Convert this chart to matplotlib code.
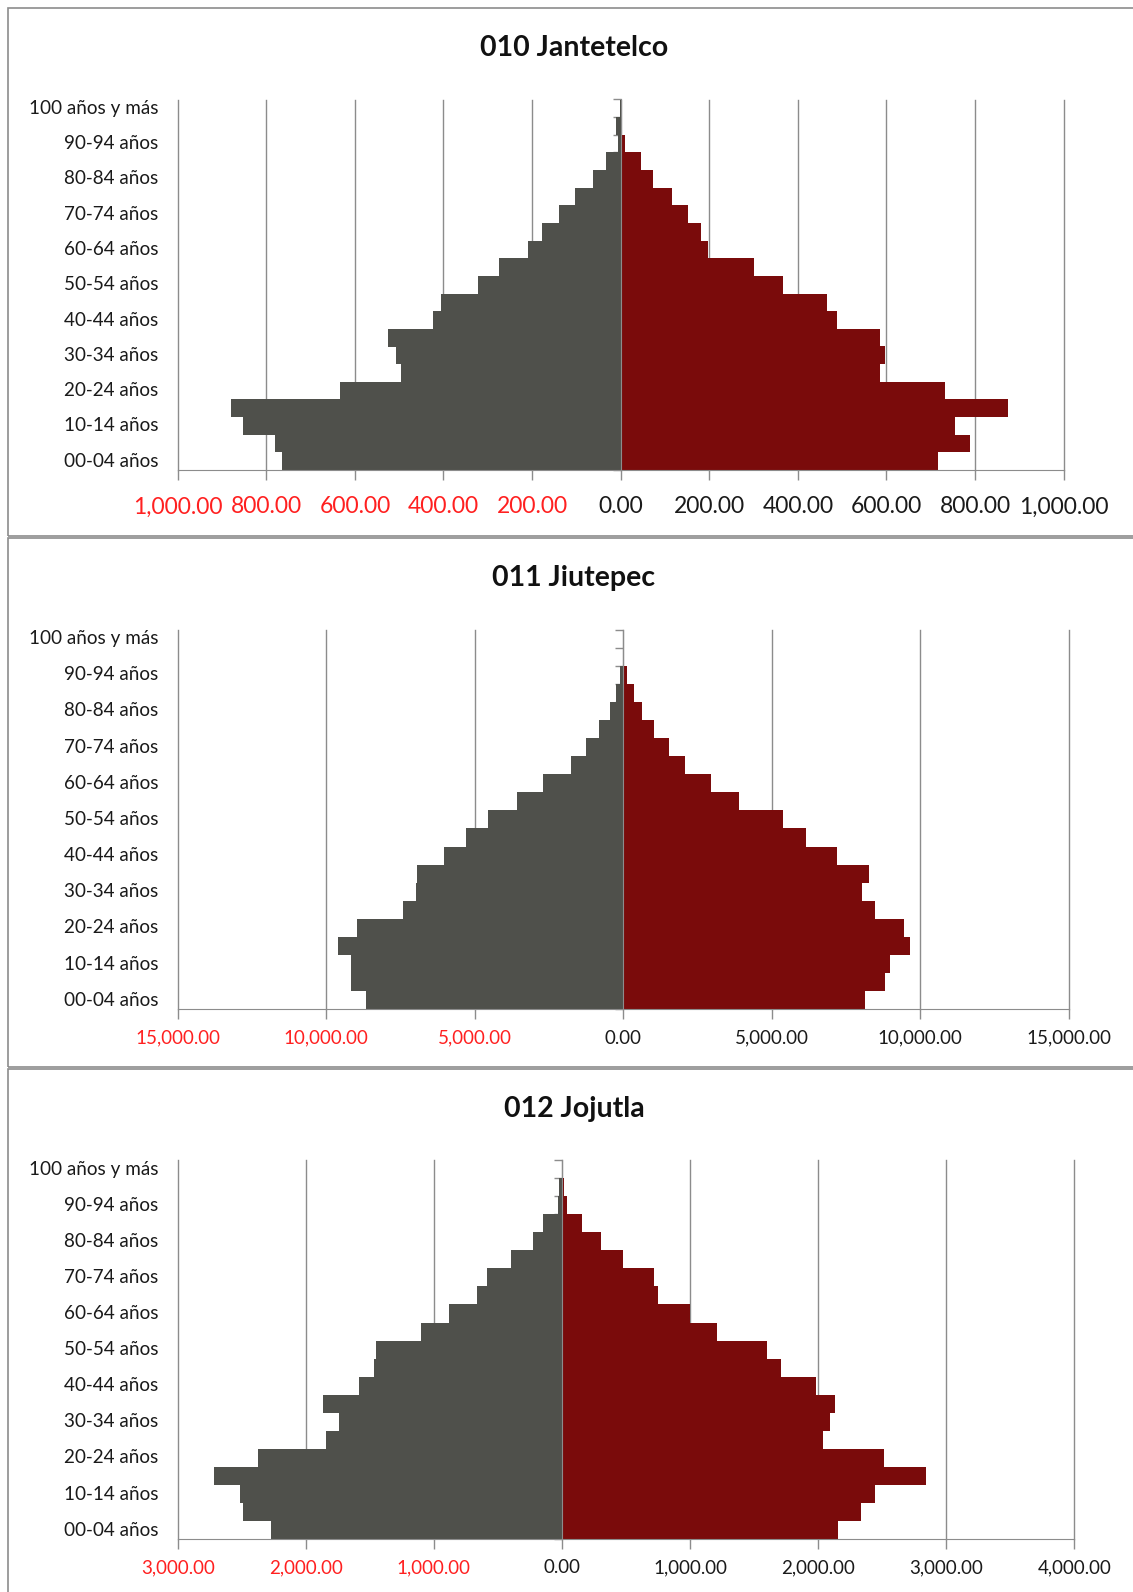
import numpy as np
import matplotlib
matplotlib.use('Agg')
import matplotlib.pyplot as plt
from matplotlib.patches import Rectangle
from matplotlib.ticker import FuncFormatter

plt.rcParams['font.family'] = ['Lato', 'DejaVu Sans']

# age groups, bottom to top
grupos = ['00-04 años', '05-09 años', '10-14 años', '15-19 años', '20-24 años',
          '25-29 años', '30-34 años', '35-39 años', '40-44 años', '45-49 años',
          '50-54 años', '55-59 años', '60-64 años', '65-69 años', '70-74 años',
          '75-79 años', '80-84 años', '85-89 años', '90-94 años', '95-99 años',
          '100 años y más']

# 010 Jantetelco
jantetelco_hombres = [765, 781, 853, 879, 633, 496, 507, 525, 423, 405, 321,
                      274, 210, 178, 139, 104, 62, 34, 5, 10, 1]
jantetelco_mujeres = [716, 788, 754, 874, 732, 586, 597, 586, 488, 465, 367,
                      300, 197, 181, 152, 116, 73, 46, 9, 1, 0]

# 011 Jiutepec
jiutepec_hombres = [8662, 9173, 9173, 9611, 8954, 7397, 6983, 6934, 6034, 5280,
                    4550, 3577, 2701, 1752, 1265, 827, 430, 245, 90, 20, 5]
jiutepec_mujeres = [8151, 8832, 9002, 9659, 9465, 8467, 8029, 8273, 7202, 6156,
                    5377, 3893, 2944, 2068, 1557, 1046, 650, 370, 135, 20, 5]

# 012 Jojutla
jojutla_hombres = [2273, 2493, 2510, 2718, 2374, 1844, 1743, 1867, 1585, 1466,
                   1455, 1100, 885, 665, 587, 395, 229, 151, 31, 21, 2]
jojutla_mujeres = [2155, 2335, 2443, 2843, 2510, 2036, 2093, 2132, 1985, 1709,
                   1602, 1213, 998, 750, 716, 474, 304, 156, 39, 18, 2]

titulos = ['010 Jantetelco', '011 Jiutepec', '012 Jojutla']
x_limites = [(-1000, 1000), (-15000, 15000), (-3000, 4000)]
x_pasos = [200, 5000, 1000]

W, H = 1133, 1592
GRIS = '#4f504b'
ROJO = '#7a0b0b'
LINEA = '#8c8c8c'


def plot_pyramid(ax, hombres, mujeres, xlim, paso, tick_size, tick_pad):
    y = np.arange(len(grupos))
    ax.barh(y, -np.array(hombres), height=1.0, color=GRIS, zorder=2)
    ax.barh(y, mujeres, height=1.0, color=ROJO, zorder=2)

    ax.set_xlim(*xlim)
    ax.set_ylim(-0.5, len(grupos) - 0.5)

    ticks = np.arange(xlim[0], xlim[1] + paso, paso)
    ax.set_xticks(ticks)
    ax.xaxis.set_major_formatter(FuncFormatter(lambda v, p: f"{abs(v):,.2f}"))
    ax.tick_params(axis='x', direction='out', length=7, width=1, color=LINEA,
                   labelsize=tick_size, pad=tick_pad)
    for lab, t in zip(ax.get_xticklabels(), ticks):
        lab.set_color('#ff2020' if t < 0 else '#1a1a1a')

    ax.xaxis.grid(True, color=LINEA, lw=1)
    for gl in ax.get_xgridlines():
        gl.set_clip_on(False)
    ax.set_axisbelow(True)

    # vertical axis at zero with minor ticks on group boundaries
    ax.spines['left'].set_position(('data', 0))
    ax.spines['left'].set_color(LINEA)
    ax.spines['left'].set_zorder(3)
    ax.set_yticks(np.arange(len(grupos) + 1) - 0.5)
    ax.set_yticklabels([])
    ax.tick_params(axis='y', direction='out', length=6, width=1, color=LINEA)
    for s in ['top', 'right']:
        ax.spines[s].set_visible(False)
    ax.spines['bottom'].set_color(LINEA)

    for i in range(0, len(grupos), 2):
        ax.annotate(grupos[i], xy=(0, i), xycoords=('axes fraction', 'data'),
                    xytext=(-19, 0), textcoords='offset pixels',
                    ha='right', va='center', fontsize=13.6, color='#1a1a1a')


fig = plt.figure(figsize=(W / 100, H / 100), dpi=100)

# panel frames (pixels: top, bottom)
paneles = [(7.5, 536), (538, 1067), (1069, 1610)]
for top, bot in paneles:
    fig.add_artist(Rectangle((7.5 / W, 1 - bot / H), 1.2, (bot - top) / H,
                             transform=fig.transFigure, fill=False,
                             edgecolor=LINEA, lw=1.2))

# axes boxes (pixels: left, right, top, bottom)
cajas = [(177.7, 1063.6, 99.5, 470), (177.7, 1068.6, 629.5, 1009.4),
         (177.7, 1074.4, 1160, 1539.2)]
titulo_y = [48, 578, 1109]
datos = [(jantetelco_hombres, jantetelco_mujeres),
         (jiutepec_hombres, jiutepec_mujeres),
         (jojutla_hombres, jojutla_mujeres)]
tamanos = [16.5, 13.5, 13.5]
pads = [12, 7.5, 7.5]

for k in range(3):
    l, r, t, b = cajas[k]
    ax = fig.add_axes([l / W, 1 - b / H, (r - l) / W, (b - t) / H])
    plot_pyramid(ax, datos[k][0], datos[k][1], x_limites[k], x_pasos[k],
                 tamanos[k], pads[k])
    fig.text(574 / W, 1 - titulo_y[k] / H, titulos[k], ha='center', va='center',
             fontsize=20.5, fontweight='bold', color='#111111')

fig.savefig('out.png', dpi=100)
